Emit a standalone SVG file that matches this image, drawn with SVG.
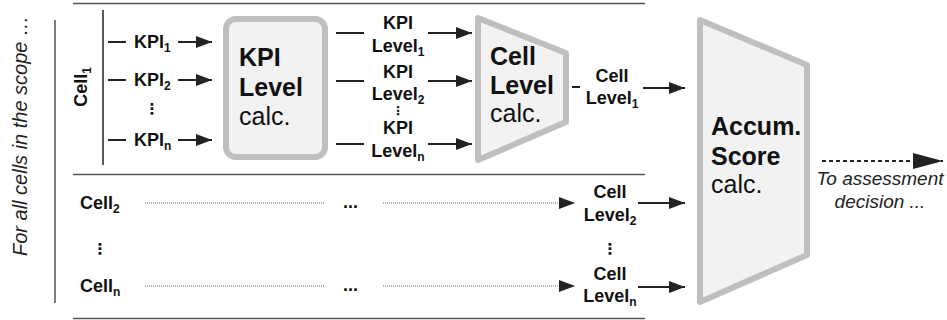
<svg xmlns="http://www.w3.org/2000/svg" width="947" height="320" viewBox="0 0 947 320">
<defs>
<style>
text{font-family:"Liberation Sans",Arial,sans-serif;fill:#111}
.b{font-weight:bold;font-size:18px}
.big{font-size:25px}
.bb{font-size:25px;font-weight:bold}
.it{font-style:italic;font-size:19px;fill:#222}
.sep{stroke:#555;stroke-width:1.5;fill:none}
.ln{stroke:#222;stroke-width:2;fill:none}
.arr{stroke:#222;stroke-width:2;fill:none;marker-end:url(#ah)}
.dot{stroke:#666;stroke-width:1;stroke-dasharray:1 1;fill:none}
.dota{stroke:#666;stroke-width:1;stroke-dasharray:1 1;fill:none;marker-end:url(#ah)}
.shape{fill:#f2f2f2;stroke:#bfbfbf;stroke-width:6;stroke-linejoin:round}
.vd{font-family:"DejaVu Sans",sans-serif;font-weight:bold;font-size:15px;text-anchor:middle}
.vs{font-family:"DejaVu Sans",sans-serif;font-weight:bold;font-size:12px;text-anchor:middle}
.c{text-anchor:middle}
</style>
<marker id="ah" markerUnits="userSpaceOnUse" markerWidth="16" markerHeight="12" refX="16" refY="6" orient="auto">
<path d="M0,0 L16,6 L0,12 z" fill="#222"/>
</marker>
<marker id="ahb" markerUnits="userSpaceOnUse" markerWidth="30" markerHeight="16" refX="30" refY="8" orient="auto">
<path d="M0,0 L30,8 L0,16 z" fill="#222"/>
</marker>
</defs>

<g id="frame">
<line class="sep" x1="73" y1="3.5" x2="645" y2="3.5"/>
<line class="sep" x1="73" y1="174.5" x2="645" y2="174.5"/>
<line class="sep" x1="73" y1="318.5" x2="645" y2="318.5"/>
<line class="sep" x1="55" y1="20" x2="55" y2="303"/>
<text class="it" transform="translate(27,136) rotate(-90)" text-anchor="middle" style="font-size:20px">For all cells in the scope …</text>
</g>

<g id="cell1">
<text class="b" transform="translate(87,87) rotate(-90)" text-anchor="middle">Cell<tspan font-size="12" dy="4">1</tspan></text>
<line x1="103" y1="10" x2="103" y2="165" stroke="#222" stroke-width="1.5"/>
</g>

<g id="kpi-inputs">
<text class="b" x="134" y="48">KPI<tspan font-size="12" dy="4">1</tspan></text>
<text class="b" x="134" y="86">KPI<tspan font-size="12" dy="4">2</tspan></text>
<text class="vd" x="152" y="114">⋮</text>
<text class="b" x="134" y="146">KPI<tspan font-size="12" dy="4">n</tspan></text>
</g>

<g id="kpi-level-calc">
<rect class="shape" x="226" y="19" width="99" height="138" rx="10"/>
<text class="bb" x="239" y="66">KPI</text>
<text class="bb" x="239" y="96">Level</text>
<text class="big" x="239" y="125">calc.</text>
</g>

<g id="kpi-levels">
<text class="b c" x="398" y="29">KPI</text>
<text class="b c" x="398" y="52">Level<tspan font-size="12" dy="4">1</tspan></text>
<text class="b c" x="398" y="78">KPI</text>
<text class="b c" x="398" y="100">Level<tspan font-size="12" dy="4">2</tspan></text>
<text class="vs" x="398" y="115">⋮</text>
<text class="b c" x="398" y="134">KPI</text>
<text class="b c" x="398" y="157">Level<tspan font-size="12" dy="4">n</tspan></text>
</g>

<g id="cell-level-calc">
<polygon class="shape" points="478,18 566,53 566,122 478,160"/>
<text class="bb" x="490" y="65">Cell</text>
<text class="bb" x="490" y="94">Level</text>
<text class="big" x="490" y="122">calc.</text>
</g>

<g id="cell-level-1">
<text class="b c" x="612" y="82">Cell</text>
<text class="b c" x="612" y="104">Level<tspan font-size="12" dy="4">1</tspan></text>
</g>

<g id="cell-2">
<text class="b" x="80" y="209">Cell<tspan font-size="12" dy="4">2</tspan></text>
<text class="b" x="343" y="208">...</text>
<text class="b c" x="610" y="198">Cell</text>
<text class="b c" x="610" y="221">Level<tspan font-size="12" dy="4">2</tspan></text>
</g>

<g id="cell-dots">
<text class="vd" x="100" y="254">⋮</text>
<text class="vd" x="610" y="254">⋮</text>
</g>

<g id="cell-n">
<text class="b" x="80" y="292">Cell<tspan font-size="12" dy="4">n</tspan></text>
<text class="b" x="343" y="291">...</text>
<text class="b c" x="610" y="280">Cell</text>
<text class="b c" x="610" y="302">Level<tspan font-size="12" dy="4">n</tspan></text>
</g>

<g id="accum-score-calc">
<polygon class="shape" points="700,20 807,65 807,255 700,302"/>
<text class="bb" x="711" y="135">Accum.</text>
<text class="bb" x="711" y="165">Score</text>
<text class="big" x="711" y="193">calc.</text>
</g>

<g id="assessment">
<text class="it c" x="880" y="185">To assessment</text>
<text class="it c" x="880" y="208">decision ...</text>
</g>

<g id="connectors">
<line class="ln" x1="108" y1="42" x2="126" y2="42"/>
<line class="ln" x1="108" y1="80" x2="126" y2="80"/>
<line class="ln" x1="108" y1="140" x2="126" y2="140"/>
<line class="arr" x1="178" y1="42" x2="212" y2="42"/>
<line class="arr" x1="178" y1="80" x2="212" y2="80"/>
<line class="arr" x1="178" y1="140" x2="212" y2="140"/>
<line class="ln" x1="336" y1="33" x2="364" y2="33"/>
<line class="ln" x1="336" y1="81" x2="364" y2="81"/>
<line class="ln" x1="336" y1="144" x2="364" y2="144"/>
<line class="arr" x1="428" y1="33" x2="472" y2="33"/>
<line class="arr" x1="428" y1="81" x2="472" y2="81"/>
<line class="arr" x1="428" y1="144" x2="472" y2="144"/>
<line class="ln" x1="572" y1="87" x2="580" y2="87"/>
<line class="arr" x1="643" y1="88" x2="685" y2="88"/>
<line class="dot" x1="145" y1="203" x2="324" y2="203"/>
<line class="dota" x1="383" y1="203" x2="575" y2="203"/>
<line class="arr" x1="638" y1="203" x2="685" y2="203"/>
<line class="dot" x1="145" y1="286" x2="324" y2="286"/>
<line class="dota" x1="383" y1="286" x2="575" y2="286"/>
<line class="arr" x1="638" y1="287" x2="685" y2="287"/>
<line x1="822" y1="161" x2="943" y2="161" stroke="#222" stroke-width="2" stroke-dasharray="4 3" marker-end="url(#ahb)"/>
</g>
</svg>
